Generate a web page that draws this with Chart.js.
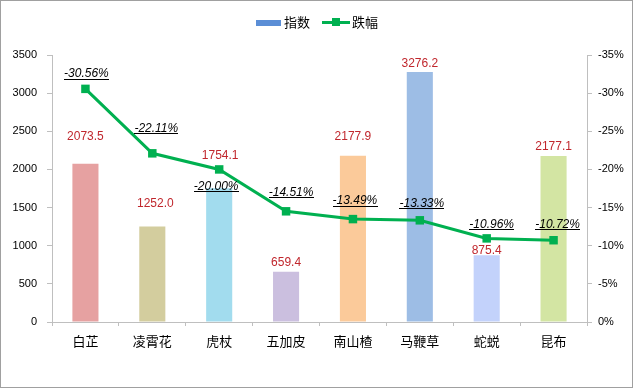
<!DOCTYPE html>
<html>
<head>
<meta charset="utf-8">
<script src="https://cdn.jsdelivr.net/npm/chart.js@4.4.1/dist/chart.umd.min.js"></script>
<style>
  body { margin: 0; background: #fff; }
  #frame { position: relative; width: 633px; height: 388px; border: 1px solid #a0a0a0; box-sizing: border-box; background: #fff; }
  #wrap { position: absolute; left: 0; top: 0; width: 631px; height: 386px; }
  .lg { position: absolute; }
  .lg-text { font: 13px "Noto Sans CJK SC", sans-serif; line-height: 18px; top: 12px; color: #000; }
</style>
</head>
<body>
<div id="frame">
  <div id="wrap"><canvas id="chart"></canvas></div>
  <div class="lg" style="left:255px;top:19px;width:25px;height:6px;background:#5B8ED6"></div>
  <div class="lg lg-text" style="left:283px">指数</div>
  <div class="lg" style="left:321px;top:20px;width:28px;height:3px;background:#00B050"></div>
  <div class="lg" style="left:331px;top:17px;width:8px;height:8px;background:#00B050"></div>
  <div class="lg lg-text" style="left:351px">跌幅</div>
</div>
<script>
// data
const categories = ["白芷", "凌霄花", "虎杖", "五加皮", "南山楂", "马鞭草", "蛇蜕", "昆布"];
const indexValues = [2073.5, 1252.0, 1754.1, 659.4, 2177.9, 3276.2, 875.4, 2177.1];
const changeValues = [-30.56, -22.11, -20.00, -14.51, -13.49, -13.33, -10.96, -10.72];
const leftTicks = [0, 500, 1000, 1500, 2000, 2500, 3000, 3500];
const rightTicks = [0, -5, -10, -15, -20, -25, -30, -35];

// styling
const barColors = ["#E6A1A1", "#D3CD9E", "#A2DCEE", "#CBBFDF", "#FBCA9A", "#9DBDE5", "#C3D2FB", "#D3E5A3"];
// label nudges [dx, dy] in px, the labels in the original were moved by hand
const barLabelShift = [[0, -27], [3, -23], [1, -32], [0, -9], [0, -19], [0, -8], [0, -5], [0, -9]];
const lineLabelShift = [[1, -15], [4, -25], [-3, 17], [5, -19], [2, -18], [2, -17], [5, -14], [4, -16]];

const axisGray = "#BFBFBF";
const tickFont = { family: "Liberation Sans", size: 11 };

const valueLabels = {
  id: "valueLabels",
  afterDatasetsDraw(chart) {
    const ctx = chart.ctx;
    ctx.save();
    ctx.textAlign = "center";
    ctx.textBaseline = "middle";

    ctx.font = '12px "Liberation Sans"';
    ctx.fillStyle = "#C0272D";
    chart.getDatasetMeta(0).data.forEach((bar, i) => {
      ctx.fillText(indexValues[i].toFixed(1), bar.x + barLabelShift[i][0], bar.y + barLabelShift[i][1]);
    });

    ctx.font = 'italic 12px "Liberation Sans"';
    ctx.fillStyle = "#000";
    chart.getDatasetMeta(1).data.forEach((pt, i) => {
      const txt = changeValues[i].toFixed(2) + "%";
      const x = pt.x + lineLabelShift[i][0];
      const y = pt.y + lineLabelShift[i][1];
      ctx.fillText(txt, x, y);
      const w = ctx.measureText(txt).width;
      ctx.fillRect(Math.round(x - w / 2), Math.round(y + 5), Math.round(w), 1);
    });
    ctx.restore();
  }
};

new Chart(document.getElementById("chart"), {
  data: {
    labels: categories,
    datasets: [
      {
        type: "bar",
        label: "指数",
        data: indexValues,
        backgroundColor: barColors,
        barPercentage: 0.39,
        categoryPercentage: 1,
        yAxisID: "y",
        order: 1
      },
      {
        type: "line",
        label: "跌幅",
        data: changeValues,
        borderColor: "#00B050",
        backgroundColor: "#00B050",
        borderWidth: 3,
        pointStyle: "rect",
        pointRadius: 6,
        pointBorderWidth: 0,
        pointBackgroundColor: "#00B050",
        tension: 0,
        yAxisID: "y1",
        order: 0
      }
    ]
  },
  options: {
    responsive: true,
    maintainAspectRatio: false,
    animation: false,
    layout: { padding: { top: 54, left: 0, right: 0, bottom: 0 } },
    plugins: {
      legend: { display: false },
      tooltip: { enabled: false }
    },
    scales: {
      x: {
        offset: true,
        grid: { display: true, offset: true, drawOnChartArea: false, drawTicks: true, tickLength: 4, color: axisGray },
        border: { color: axisGray },
        ticks: { color: "#000", font: { family: "Noto Sans CJK SC", size: 13 }, padding: 7, maxRotation: 0 },
        afterFit(s) { s.height = 65; }
      },
      y: {
        position: "left",
        min: 0,
        max: 3500,
        afterBuildTicks(s) { s.ticks = leftTicks.map(v => ({ value: v })); },
        grid: { drawOnChartArea: false, tickLength: 5, color: axisGray },
        border: { color: axisGray },
        ticks: { color: "#000", font: tickFont, padding: 10, callback: v => String(v) },
        afterFit(s) { s.width = 51; }
      },
      y1: {
        position: "right",
        min: -35,
        max: 0,
        reverse: true,
        afterBuildTicks(s) { s.ticks = rightTicks.map(v => ({ value: v })); },
        grid: { drawOnChartArea: false, tickLength: 5, color: axisGray },
        border: { color: axisGray },
        ticks: { color: "#000", font: tickFont, padding: 6, callback: v => v + "%" },
        afterFit(s) { s.width = 45; }
      }
    }
  },
  plugins: [valueLabels]
});
</script>
</body>
</html>
